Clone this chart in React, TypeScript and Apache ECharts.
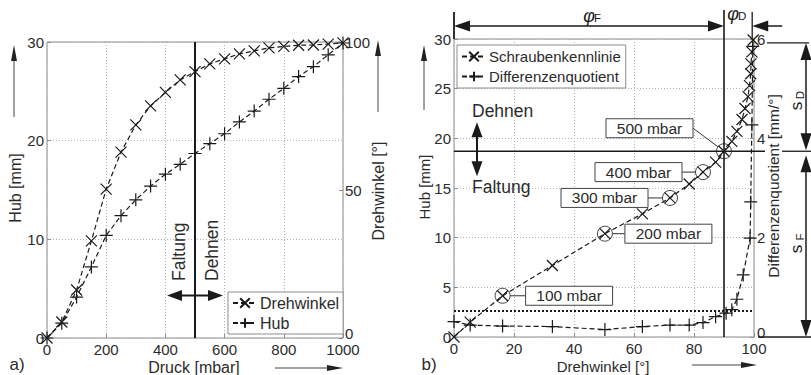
import React, { useEffect, useRef } from "react";
import * as echarts from "echarts";

// ---------------- data ----------------
const druck = [0, 50, 100, 150, 200, 250, 300, 350, 400, 450, 500, 550, 600, 650, 700, 750, 800, 850, 900, 950, 1000];
const drehwinkel = [0, 5.4, 16.2, 32.8, 50.3, 62.8, 72, 78.4, 83, 87.2, 90, 92.6, 94.3, 96, 97, 98, 98.5, 98.9, 99, 99.3, 99.7];
const hub = [0, 1.5, 4.15, 7.2, 10.4, 12.4, 14, 15.4, 16.6, 17.6, 18.7, 19.7, 20.7, 21.9, 23, 24.2, 25.3, 26.5, 27.5, 28.7, 29.9];
const dqWinkel = [0, 5.4, 16.2, 32.8, 50.3, 62.8, 72, 78.4, 83, 87.2, 90.7, 92.6, 94.3, 96.4, 98.7, 98.9, 99.3, 99.6];
const dqWert = [0.31, 0.24, 0.22, 0.21, 0.15, 0.21, 0.24, 0.24, 0.29, 0.41, 0.48, 0.55, 0.76, 1.25, 1.99, 2.72, 4.27, 5.85];
const markierteDrucke = [100, 200, 300, 400, 500];
const druckTicks = [0, 200, 400, 600, 800, 1000];
const hubTicksA = [0, 10, 20, 30];
const winkelTicksA = [0, 50, 100];
const winkelTicksB = [0, 20, 40, 60, 80, 100];
const hubTicksB = [0, 5, 10, 15, 20, 25, 30];
const dqTicks = [0, 2, 4, 6];
const uebergangDruck = 500;
const uebergangWinkel = 90;
const uebergangHub = 18.7;
const maxWinkel = 99.4;
const maxHub = 29.6;
const schwelleHub = 2.6;

// ---------------- styling ----------------
const FONT = "'Liberation Sans', Arial, Helvetica, sans-serif";
const INK = "#1a1a1a";
const TXT = "#2b2b2b";
const FRAME = "#8c8c8c";
const GRIDC = "#b0b0b0";
const X_SYM = "path://M0,0L10,10M10,0L0,10";
const P_SYM = "path://M5,0L5,10M0,5L10,5";

const range = (t: number[]) => ({ min: t[0], max: t[t.length - 1], interval: t[1] - t[0] });

const baseAxis = (extra: any) => ({
  type: "value",
  axisLine: { show: false },
  axisTick: { show: true, inside: true, length: 4, lineStyle: { color: FRAME } },
  splitLine: { show: true, lineStyle: { color: GRIDC, type: [1, 2], width: 1 } },
  ...extra,
  axisLabel: {
    color: TXT,
    fontSize: 15,
    fontFamily: FONT,
    formatter: (v: number) => String(v),
    ...(extra.axisLabel || {}),
  },
});

// right-hand axes: lift the "0" a little so it sits above the x tick labels
const rightLabel = {
  margin: 2,
  formatter: (v: number) => (v === 0 ? "{z|0}" : String(v)),
  rich: { z: { fontSize: 15, fontFamily: FONT, color: TXT, padding: [0, 0, 9, 0] } },
};

function buildOption(): any {
  const lineSeries = (name: string, xi: number, yi: number, data: number[][], sym: string, size: number) => ({
    name,
    type: "line",
    xAxisIndex: xi,
    yAxisIndex: yi,
    data,
    symbol: sym,
    symbolSize: size,
    lineStyle: { color: INK, width: 1.2, type: [5, 3] },
    itemStyle: { color: "transparent", borderColor: INK, borderWidth: 1.2 },
    z: 4,
  });
  return {
    animation: false,
    backgroundColor: "#fff",
    textStyle: { fontFamily: FONT },
    grid: [
      { left: 47, top: 42, width: 296, height: 296, show: true, borderColor: FRAME, borderWidth: 1, backgroundColor: "transparent" },
      { left: 454, top: 39, width: 300, height: 298, show: true, borderColor: FRAME, borderWidth: 1, backgroundColor: "transparent" },
    ],
    xAxis: [
      baseAxis({ gridIndex: 0, ...range(druckTicks), axisLabel: { margin: 4 } }),
      baseAxis({ gridIndex: 1, ...range(winkelTicksB), axisLabel: { margin: 4 } }),
    ],
    yAxis: [
      baseAxis({ gridIndex: 0, position: "left", ...range(hubTicksA), axisLabel: { margin: 3 } }),
      baseAxis({ gridIndex: 0, position: "right", ...range(winkelTicksA), splitLine: { show: false }, axisLabel: rightLabel }),
      baseAxis({ gridIndex: 1, position: "left", ...range(hubTicksB), axisLabel: { margin: 3 } }),
      baseAxis({ gridIndex: 1, position: "right", ...range(dqTicks), splitLine: { show: false }, axisLabel: { ...rightLabel, margin: 3 } }),
    ],
    legend: [
      {
        data: ["Drehwinkel", "Hub"],
        left: 228,
        top: 292,
        orient: "vertical",
        itemWidth: 24,
        itemHeight: 12,
        itemGap: 4,
        padding: [3, 4, 3, 4],
        borderColor: FRAME,
        borderWidth: 1,
        backgroundColor: "#fff",
        textStyle: { fontSize: 16, color: TXT, fontFamily: FONT, padding: [0, 0, 0, -2] },
      },
      {
        data: ["Schraubenkennlinie", "Differenzenquotient"],
        left: 457,
        top: 45,
        orient: "vertical",
        itemWidth: 24,
        itemHeight: 12,
        itemGap: 5,
        padding: [4, 5, 4, 4],
        borderColor: FRAME,
        borderWidth: 1,
        backgroundColor: "#fff",
        textStyle: { fontSize: 15, color: TXT, fontFamily: FONT, padding: [0, 0, 0, -2] },
      },
    ],
    series: [
      lineSeries("Drehwinkel", 0, 1, druck.map((p, i) => [p, drehwinkel[i]]), X_SYM, 11),
      {
        ...lineSeries("Hub", 0, 0, druck.map((p, i) => [p, hub[i]]), P_SYM, 13),
        markLine: {
          silent: true,
          symbol: ["none", "none"],
          label: { show: false },
          lineStyle: { color: INK, width: 2, type: "solid" },
          data: [{ xAxis: uebergangDruck }],
        },
      },
      {
        ...lineSeries("Schraubenkennlinie", 1, 2, drehwinkel.map((w, i) => [w, hub[i]]), X_SYM, 11),
        markLine: {
          silent: true,
          symbol: ["none", "none"],
          label: { show: false },
          lineStyle: { color: INK, width: 1.8, type: [2, 2] },
          data: [{ yAxis: schwelleHub }],
        },
      },
      lineSeries("Differenzenquotient", 1, 3, dqWinkel.map((w, i) => [w, dqWert[i]]), P_SYM, 13),
      {
        name: "Markierung",
        type: "scatter",
        xAxisIndex: 1,
        yAxisIndex: 2,
        data: markierteDrucke.map((p) => {
          const i = druck.indexOf(p);
          return [drehwinkel[i], hub[i]];
        }),
        symbol: "circle",
        symbolSize: 15,
        itemStyle: { color: "transparent", borderColor: INK, borderWidth: 1 },
        z: 5,
      },
    ],
  };
}

function buildGraphics(chart: any): any[] {
  const c = (s: number, x: number, y: number) => chart.convertToPixel({ seriesIndex: s }, [x, y]) as number[];
  const els: any[] = [];
  const line = (x1: number, y1: number, x2: number, y2: number, w = 1.5, color = INK) =>
    els.push({ type: "line", silent: true, z: 10, shape: { x1, y1, x2, y2 }, style: { stroke: color, lineWidth: w } });
  const head = (tx: number, ty: number, dx: number, dy: number, len = 15, half = 5, color = INK) => {
    const bx = tx - dx * len;
    const by = ty - dy * len;
    const nx = -dy;
    const ny = dx;
    els.push({
      type: "polygon",
      silent: true,
      z: 10,
      shape: { points: [[tx, ty], [bx + nx * half, by + ny * half], [bx - nx * half, by - ny * half]] },
      style: { fill: color },
    });
  };
  const text = (x: number, y: number, t: string, size: number, opts: any = {}) =>
    els.push({
      type: "text",
      silent: true,
      z: 11,
      x,
      y,
      rotation: opts.rot || 0,
      style: {
        text: t,
        font: `${opts.italic ? "italic " : ""}${size}px ${FONT}`,
        fill: opts.color || TXT,
        align: opts.align || "center",
        textAlign: opts.align || "center",
        verticalAlign: "middle",
        textVerticalAlign: "middle",
      },
    });
  const axisArrow = (x1: number, y1: number, x2: number, y2: number) => {
    const len = Math.hypot(x2 - x1, y2 - y1);
    const dx = (x2 - x1) / len;
    const dy = (y2 - y1) / len;
    line(x1, y1, x2 - dx * 10, y2 - dy * 10, 1, "#444");
    head(x2, y2, dx, dy, 16, 3, "#222");
  };
  const R = Math.PI / 2;

  // ---------- chart a ----------
  const [x500, yBotA] = c(1, uebergangDruck, 0);
  const yArr = c(1, 0, 4.3)[1];
  line(x500 - 20, yArr, x500 + 21, yArr, 2);
  head(x500 - 28, yArr, -1, 0, 15, 5.5);
  head(x500 + 28, yArr, 1, 0, 15, 5.5);
  text(x500 - 16, yBotA - 57, "Faltung", 17.5, { rot: R, align: "left" });
  text(x500 + 17, yBotA - 57, "Dehnen", 17.5, { rot: R, align: "left" });

  text(15, 188, "Hub [mm]", 16, { rot: R });
  axisArrow(14, 117, 14, 45);
  text(378, 191, "Drehwinkel [°]", 16, { rot: R });
  axisArrow(378, 112, 378, 40);
  text(194, 367, "Druck [mbar]", 16);
  axisArrow(275, 368, 343, 368);
  text(17, 364, "a)", 17);

  // ---------- chart b ----------
  const [x0, yBotB] = c(2, 0, 0);
  const x90 = c(2, uebergangWinkel, 0)[0];
  const xMax = c(2, maxWinkel, 0)[0];
  const xR = c(2, 100, 0)[0];
  const yTopB = c(2, 0, 30)[1];
  const yU = c(2, 0, uebergangHub)[1];
  const yMax = c(2, 0, maxHub)[1];

  line(x90, 10, x90, yBotB, 1.6);
  line(x0, 12, x0, yTopB, 1.8);
  line(xMax, 12, xMax, yTopB, 1.3);
  line(x0 + 14, 26, x90 - 14, 26, 1.5);
  head(x0, 26, -1, 0, 16, 5.5);
  head(x90, 26, 1, 0, 16, 5.5);
  line(xMax + 14, 26, xMax + 30, 26, 1.5);
  head(xMax, 26, -1, 0, 16, 5.5);
  text(589, 16, "φ", 18, { italic: true, color: INK });
  text(594, 18, "F", 11.5, { align: "left", color: INK });
  text(733, 14, "φ", 18, { italic: true, color: INK });
  text(738, 16, "D", 11.5, { align: "left", color: INK });

  line(x0, yU, xR + 11, yU, 1.7);
  line(xR + 13, yMax, 809, yMax, 1.3);
  line(xR + 28, yU, 811, yU, 1.3);
  line(xR + 4, yBotB, 811, yBotB, 1.3);
  const xs = 806;
  line(xs, yMax + 12, xs, yU - 12, 1.5);
  head(xs, yMax, 0, -1, 17, 5.5);
  head(xs, yU - 1, 0, 1, 17, 5.5);
  line(xs, yU + 14, xs, yBotB - 12, 1.5);
  head(xs, yU + 4, 0, -1, 17, 5.5);
  head(xs, yBotB, 0, 1, 17, 5.5);
  text(796, 106, "s", 17, { rot: R, color: INK });
  text(800, 95, "D", 11.5, { rot: R, color: INK });
  text(796, 249, "s", 17, { rot: R, color: INK });
  text(800, 237, "F", 11.5, { rot: R, color: INK });

  text(472, yU - 40, "Dehnen", 17.5, { align: "left" });
  text(472, yU + 36, "Faltung", 17.5, { align: "left" });
  line(477, yU - 18, 477, yU + 12, 2);
  head(477, yU - 29, 0, -1, 15, 5.5);
  head(477, yU + 25, 0, 1, 15, 5.5);

  text(424, 187, "Hub [mm]", 15, { rot: R });
  axisArrow(424, 110, 424, 45);
  text(773, 186, "Differenzenquotient [mm/°]", 15.5, { rot: R });
  text(603, 366, "Drehwinkel [°]", 15);
  axisArrow(692, 365, 757, 365);
  text(429, 364, "b)", 17);

  // pressure labels for the marked points
  const boxW = 87;
  const boxH = 19;
  const place = [
    { dx: 23, dy: 0, side: 1 },
    { dx: 20, dy: 0, side: 1 },
    { dx: -22, dy: 0, side: -1 },
    { dx: -21, dy: 0, side: -1 },
    { dx: -31, dy: -23, side: -1 },
  ];
  markierteDrucke.forEach((p, k) => {
    const i = druck.indexOf(p);
    const [cx, cy] = c(4, drehwinkel[i], hub[i]);
    const o = place[k];
    const ex = cx + o.dx;
    const ey = cy + o.dy;
    const bx = o.side > 0 ? ex : ex - boxW;
    const vx = ex - cx;
    const vy = ey - cy;
    const vl = Math.hypot(vx, vy);
    line(cx + (vx / vl) * 7.5, cy + (vy / vl) * 7.5, ex, ey, 1, "#333");
    els.push({
      type: "rect",
      silent: true,
      z: 10,
      shape: { x: bx, y: ey - boxH / 2, width: boxW, height: boxH },
      style: { fill: "#fff", stroke: "#444", lineWidth: 1 },
    });
    text(bx + boxW / 2, ey, `${p} mbar`, 15.5);
  });

  return els;
}

export default function App() {
  const ref = useRef<HTMLDivElement>(null);
  useEffect(() => {
    if (!ref.current) return;
    const chart = echarts.init(ref.current, undefined, { renderer: "svg" });
    chart.setOption(buildOption());
    chart.setOption({ graphic: { elements: buildGraphics(chart) } });
    return () => chart.dispose();
  }, []);
  return (
    <div
      ref={ref}
      style={{ position: "fixed", left: 0, top: 0, width: 811, height: 375, background: "#fff" }}
    />
  );
}
